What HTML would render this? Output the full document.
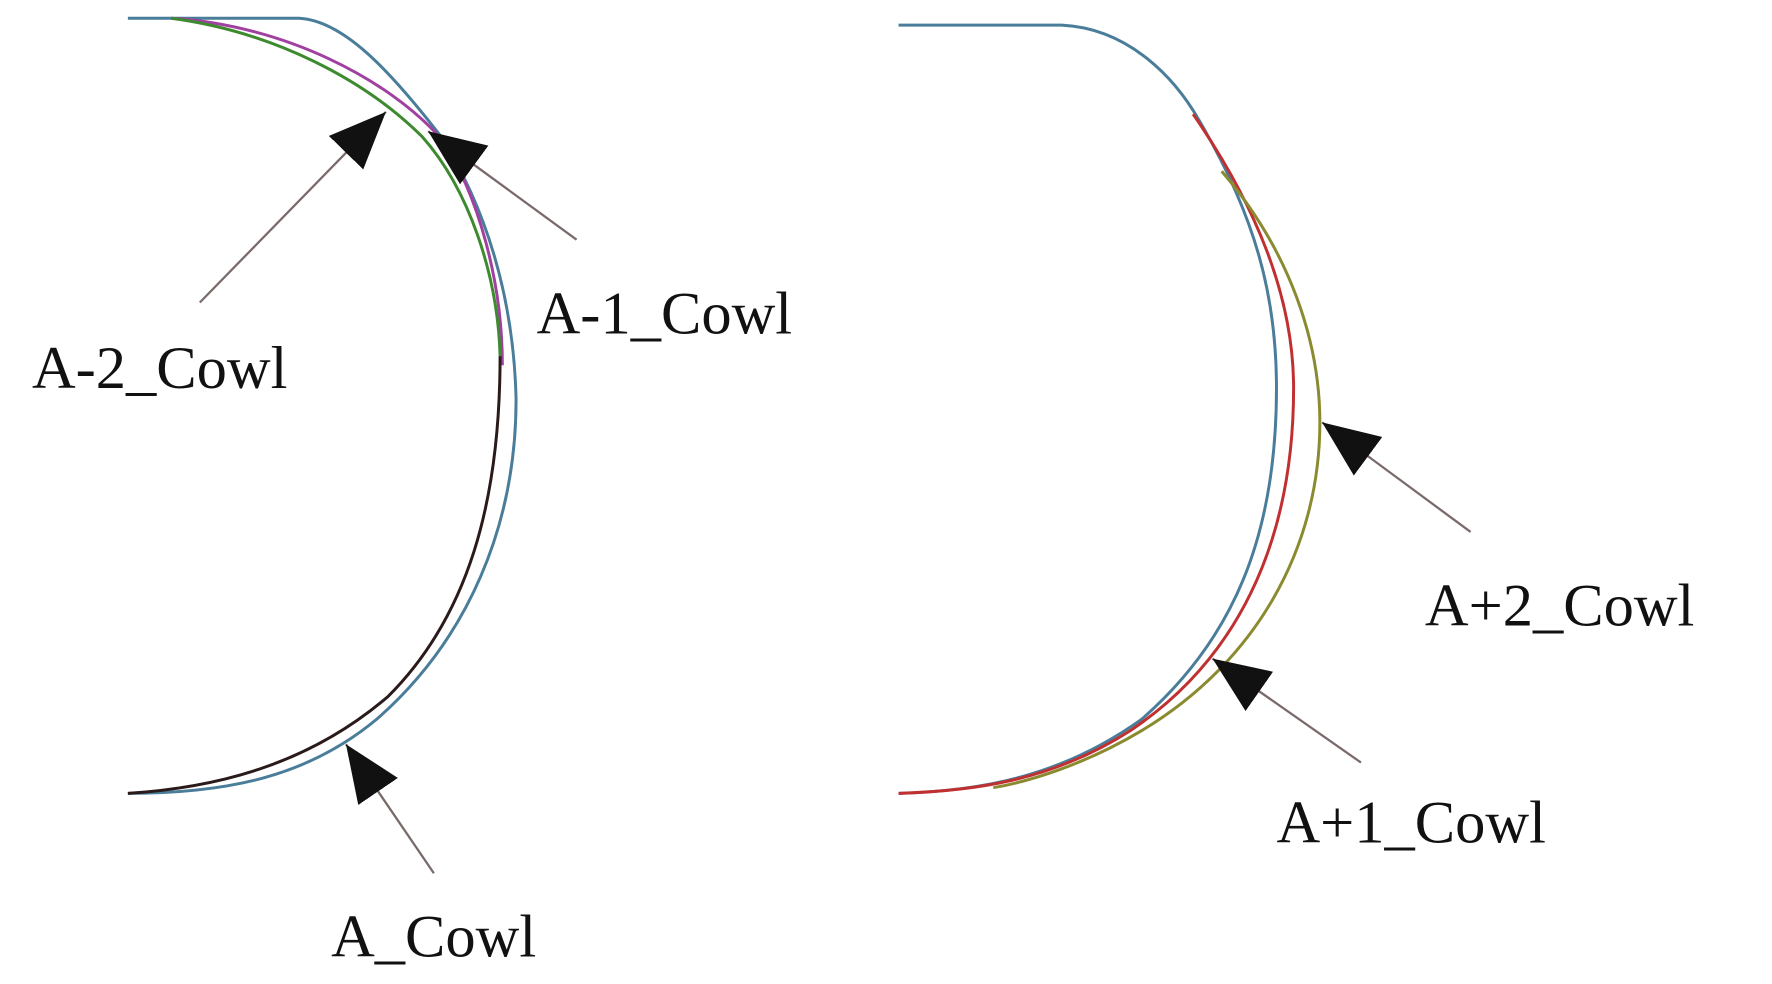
<!DOCTYPE html>
<html><head><meta charset="utf-8"><style>
html,body{margin:0;padding:0;background:#fff;width:1772px;height:984px;overflow:hidden}
svg{display:block}
text{font-family:"Liberation Serif",serif;font-size:53px;fill:#111}
</style></head><body>
<svg width="1772" height="984" viewBox="0 0 1552 862" preserveAspectRatio="none" xmlns="http://www.w3.org/2000/svg">
<defs>
<marker id="ah" markerUnits="userSpaceOnUse" markerWidth="60" markerHeight="50" refX="50" refY="21" orient="auto">
<polygon points="0,0 50,21 0,42" fill="#111"/>
</marker>
</defs>
<g fill="none" stroke-width="2.6">
<path d="M112,16 L262,16 C300,18 340,60 385,118 C425,180 450,260 452,350 C452,460 410,560 330,630 C270,680 200,695 112,695" stroke="#4a7d9a"/>
<path d="M150,16 C250,22 340,70 385,120 C420,170 440,250 440,320" stroke="#a040a0"/>
<path d="M150,16 C240,28 320,70 370,120 C410,165 436,240 438,312" stroke="#3d8a2f"/>
<path d="M438,312 C438,440 410,540 340,610 C270,670 190,690 112,695" stroke="#2a1a1a"/>
<path d="M787,22 L930,22 C990,25 1030,70 1050,105 C1100,190 1118,260 1118,340 C1118,470 1080,560 1000,630 C930,680 860,693 787,695" stroke="#4a7d9a"/>
<path d="M1045,100 C1100,180 1133,260 1133,340 C1133,480 1080,580 990,640 C920,685 850,693 787,695" stroke="#c03030"/>
<path d="M1070,150 C1130,220 1156,300 1156,370 C1156,480 1100,580 1000,640 C950,670 900,685 870,690" stroke="#8a8a30"/>
</g>
<g stroke="#7a6a6a" stroke-width="2" marker-end="url(#ah)">
<line x1="175" y1="265" x2="338" y2="98"/>
<line x1="505" y1="210" x2="375" y2="115"/>
<line x1="380" y1="765" x2="303" y2="652"/>
<line x1="1288" y1="466" x2="1158" y2="370"/>
<line x1="1192" y1="668" x2="1062" y2="577"/>
</g>
<text x="28" y="340">A-2_Cowl</text>
<text x="470" y="292">A-1_Cowl</text>
<text x="290" y="838">A_Cowl</text>
<text x="1248" y="548">A+2_Cowl</text>
<text x="1118" y="738">A+1_Cowl</text>
</svg>
</body></html>
